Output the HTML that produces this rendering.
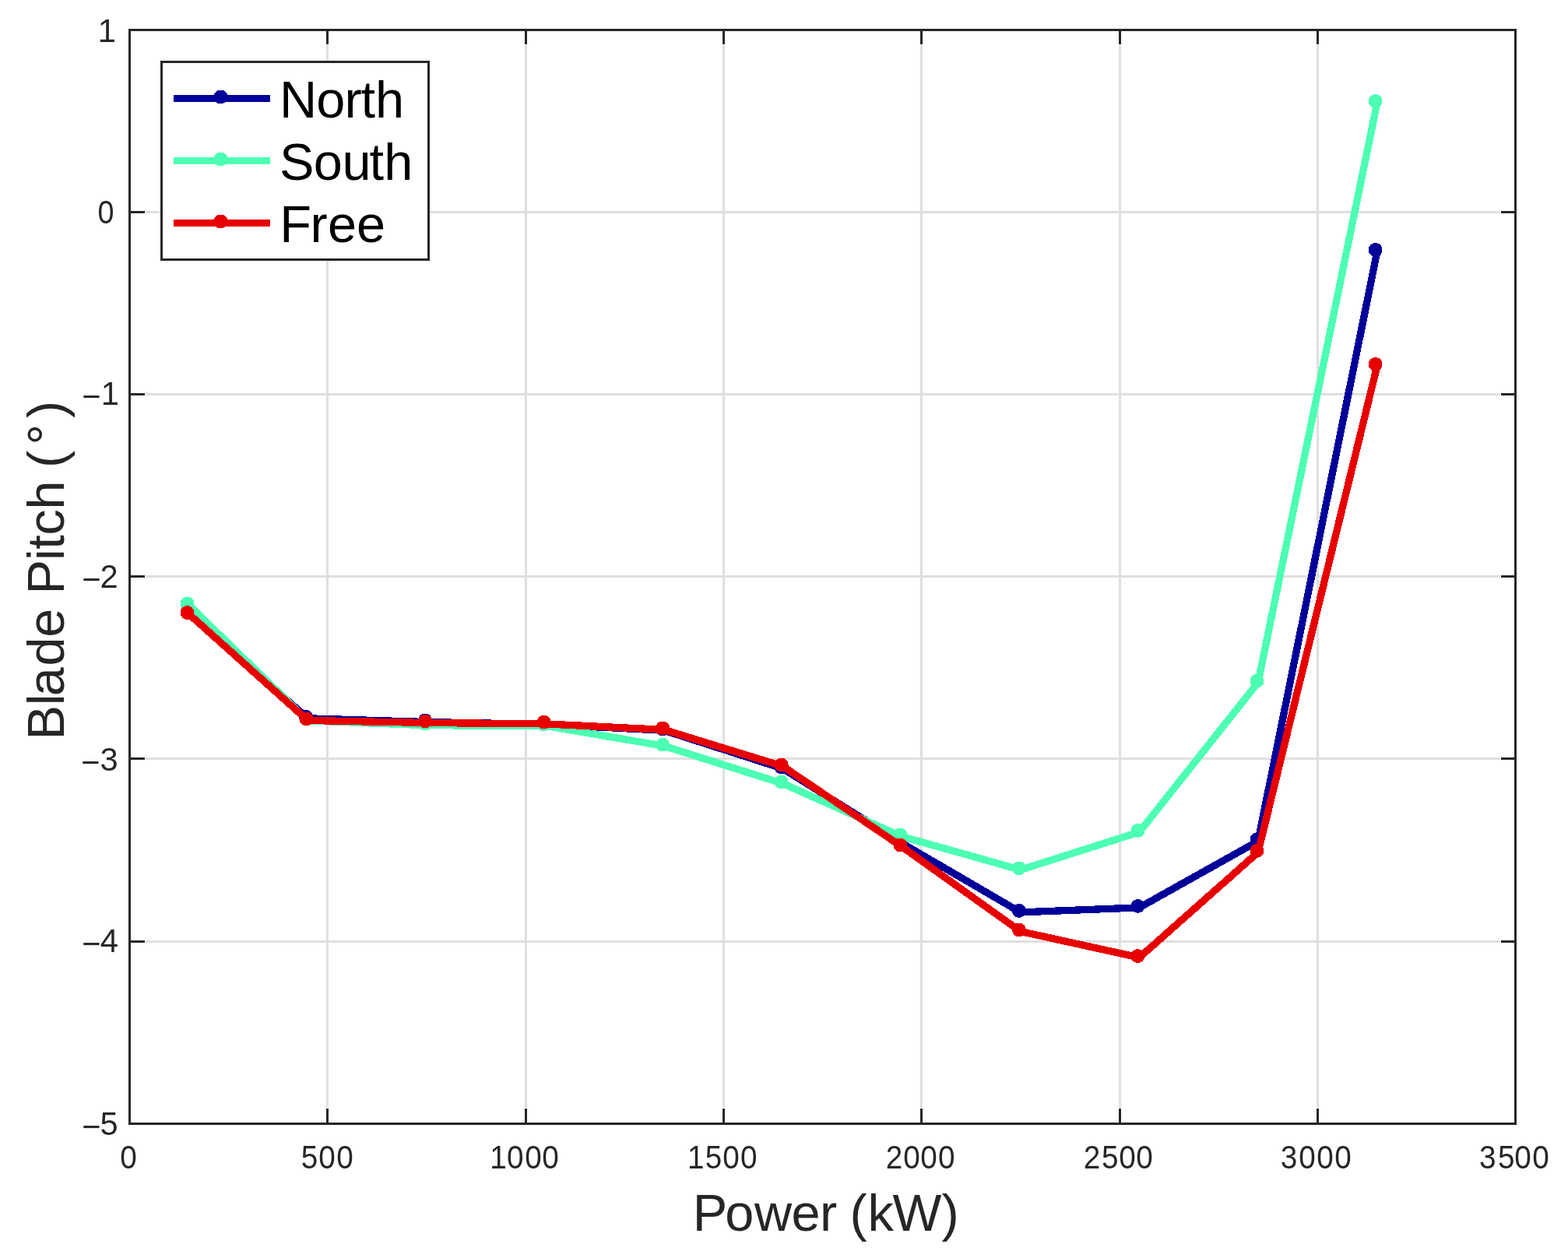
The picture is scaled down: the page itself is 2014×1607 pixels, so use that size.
<!DOCTYPE html>
<html lang="en"><head><meta charset="utf-8">
<title>Blade Pitch vs Power</title>
<style>
html,body{margin:0;padding:0;background:#fff;}
body{width:2014px;height:1607px;overflow:hidden;}
svg{display:block;}
text{font-family:"Liberation Sans", Arial, Helvetica, sans-serif;font-kerning:none;}
.tk{font-size:41.67px;fill:#262626;}
.lb{font-size:66.67px;fill:#262626;}
.lg{font-size:66.67px;fill:#000;}
</style></head><body>
<svg xmlns="http://www.w3.org/2000/svg" width="2014" height="1607" viewBox="0 0 2014 1607">
<rect x="0" y="0" width="2014" height="1607" fill="#ffffff"/>
<!-- grid -->
<g shape-rendering="crispEdges" fill="#dfdfdf">
<rect x="419" y="58" width="3" height="1365"/>
<rect x="674" y="58" width="3" height="1365"/>
<rect x="928" y="58" width="3" height="1365"/>
<rect x="1182" y="58" width="3" height="1365"/>
<rect x="1437" y="58" width="3" height="1365"/>
<rect x="1691" y="58" width="3" height="1365"/>
<rect x="187" y="1208" width="1740" height="3"/>
<rect x="187" y="973" width="1740" height="3"/>
<rect x="187" y="739" width="1740" height="3"/>
<rect x="187" y="505" width="1740" height="3"/>
<rect x="187" y="271" width="1740" height="3"/>
</g>
<!-- data series -->
<g shape-rendering="crispEdges" fill="none" stroke-linejoin="round" stroke-linecap="butt" stroke-width="9.3">
<polyline points="242.79,789 395.36,922.8 547.93,927.55 700.5,930.5 853.07,938.3 1005.64,987.4 1158.21,1083 1310.79,1171.9 1463.36,1165.9 1615.93,1080.5 1768.9,322.9" stroke="#000099"/>
<g fill="#000099" stroke="none">
<rect x="231.67" y="778.17" width="17.66" height="17.66" rx="8.33"/>
<rect x="384.03" y="911.97" width="17.66" height="17.66" rx="8.33"/>
<rect x="537.2" y="916.57" width="17.66" height="17.66" rx="8.33"/>
<rect x="689.77" y="919.27" width="17.66" height="17.66" rx="8.33"/>
<rect x="842.34" y="927.47" width="17.66" height="17.66" rx="8.33"/>
<rect x="994.91" y="976.57" width="17.66" height="17.66" rx="8.33"/>
<rect x="1147.48" y="1072.17" width="17.66" height="17.66" rx="8.33"/>
<rect x="1300.06" y="1161.07" width="17.66" height="17.66" rx="8.33"/>
<rect x="1452.63" y="1155.07" width="17.66" height="17.66" rx="8.33"/>
<rect x="1605.67" y="1069.67" width="17.66" height="17.66" rx="8.33"/>
<rect x="1757.77" y="312.07" width="17.66" height="17.66" rx="8.33"/>
</g>
<polyline points="242.79,777.4 395.36,925.8 547.93,931.7 700.5,932.4 853.07,958.3 1005.64,1006.6 1158.21,1074.5 1310.79,1117.4 1463.36,1068.9 1615.93,876.6 1768.9,131.9" stroke="#4dffb3"/>
<g fill="#4dffb3" stroke="none">
<rect x="231.67" y="766.47" width="17.66" height="17.66" rx="8.33"/>
<rect x="384.63" y="914.77" width="17.66" height="17.66" rx="8.33"/>
<rect x="537.2" y="920.72" width="17.66" height="17.66" rx="8.33"/>
<rect x="689.77" y="921.57" width="17.66" height="17.66" rx="8.33"/>
<rect x="842.34" y="947.82" width="17.66" height="17.66" rx="8.33"/>
<rect x="994.91" y="995.77" width="17.66" height="17.66" rx="8.33"/>
<rect x="1147.48" y="1063.67" width="17.66" height="17.66" rx="8.33"/>
<rect x="1300.06" y="1106.57" width="17.66" height="17.66" rx="8.33"/>
<rect x="1452.63" y="1058.07" width="17.66" height="17.66" rx="8.33"/>
<rect x="1605.67" y="865.77" width="17.66" height="17.66" rx="8.33"/>
<rect x="1757.77" y="121.07" width="17.66" height="17.66" rx="8.33"/>
</g>
<polyline points="242.79,789 395.36,925.45 547.93,928.5 700.5,929.9 853.07,937.4 1005.64,984.4 1158.21,1087.5 1310.79,1196.5 1463.36,1230.05 1615.93,1094.8 1768.9,469.9" stroke="#e60000"/>
<g fill="#e60000" stroke="none">
<rect x="231.67" y="778.17" width="17.66" height="17.66" rx="8.33"/>
<rect x="384.63" y="914.62" width="17.66" height="17.66" rx="8.33"/>
<rect x="537.2" y="917.67" width="17.66" height="17.66" rx="8.33"/>
<rect x="689.77" y="918.77" width="17.66" height="17.66" rx="8.33"/>
<rect x="842.34" y="926.57" width="17.66" height="17.66" rx="8.33"/>
<rect x="994.91" y="973.57" width="17.66" height="17.66" rx="8.33"/>
<rect x="1147.48" y="1076.67" width="17.66" height="17.66" rx="8.33"/>
<rect x="1300.06" y="1185.67" width="17.66" height="17.66" rx="8.33"/>
<rect x="1452.63" y="1219.22" width="17.66" height="17.66" rx="8.33"/>
<rect x="1605.67" y="1083.97" width="17.66" height="17.66" rx="8.33"/>
<rect x="1757.77" y="459.07" width="17.66" height="17.66" rx="8.33"/>
</g>
</g>
<!-- axes box and ticks -->
<g shape-rendering="crispEdges" fill="#262626">
<rect x="165" y="37" width="1783" height="3"/>
<rect x="165" y="1442" width="1783" height="3"/>
<rect x="165" y="37" width="3" height="1408"/>
<rect x="1945" y="37" width="3" height="1408"/>
<rect x="419" y="40" width="3" height="17"/>
<rect x="419" y="1424" width="3" height="18"/>
<rect x="674" y="40" width="3" height="17"/>
<rect x="674" y="1424" width="3" height="18"/>
<rect x="928" y="40" width="3" height="17"/>
<rect x="928" y="1424" width="3" height="18"/>
<rect x="1182" y="40" width="3" height="17"/>
<rect x="1182" y="1424" width="3" height="18"/>
<rect x="1437" y="40" width="3" height="17"/>
<rect x="1437" y="1424" width="3" height="18"/>
<rect x="1691" y="40" width="3" height="17"/>
<rect x="1691" y="1424" width="3" height="18"/>
<rect x="168" y="1208" width="18" height="3"/>
<rect x="1928" y="1208" width="17" height="3"/>
<rect x="168" y="973" width="18" height="3"/>
<rect x="1928" y="973" width="17" height="3"/>
<rect x="168" y="739" width="18" height="3"/>
<rect x="1928" y="739" width="17" height="3"/>
<rect x="168" y="505" width="18" height="3"/>
<rect x="1928" y="505" width="17" height="3"/>
<rect x="168" y="271" width="18" height="3"/>
<rect x="1928" y="271" width="17" height="3"/>
</g>
<!-- tick labels -->
<g>
<text class="tk" transform="scale(0.93 1.03)" x="165.99" y="1457.77">0</text>
<text class="tk" transform="scale(0.93 1.03)" x="415.85 439.98 464.71" y="1457.77">500</text>
<text class="tk" transform="scale(0.93 1.03)" x="676.49 700.13 724.92 748.68" y="1457.77">1000</text>
<text class="tk" transform="scale(0.93 1.03)" x="949.6 973.92 998.06 1022.72" y="1457.77">1500</text>
<text class="tk" transform="scale(0.93 1.03)" x="1223.35 1247.47 1271.18 1295.84" y="1457.77">2000</text>
<text class="tk" transform="scale(0.93 1.03)" x="1496.47 1521.43 1545.41 1568.96" y="1457.77">2500</text>
<text class="tk" transform="scale(0.93 1.03)" x="1768.69 1793.7 1818.53 1843.29" y="1457.77">3000</text>
<text class="tk" transform="scale(0.93 1.03)" x="2042.88 2068.74 2091.61 2116.27" y="1457.77">3500</text>
<text class="tk" transform="scale(1 1.03)" x="125.84" y="52.43">1</text>
<text class="tk" transform="scale(0.906 1.03)" x="138.52" y="278.25">0</text>
<text class="tk" transform="scale(1 1.03)" x="105.32 129.84" y="509.13 504.85">−1</text>
<text class="tk" transform="scale(1 1.03)" x="105.32 128.51" y="737.28 733.01">−2</text>
<text class="tk" transform="scale(1 1.03)" x="104.22 128.63" y="965.05 960.78">−3</text>
<text class="tk" transform="scale(1 1.03)" x="105.32 128.64" y="1191.65 1187.38">−4</text>
<text class="tk" transform="scale(1 1.03)" x="105.32 128.45" y="1419.42 1415.15">−5</text>
</g>
<!-- axis labels -->
<text class="lb" x="889.75 931.3 969.1 1016.5 1052.9 1074 1091.4 1114.5 1146.5 1209.4" y="1581">Power (kW)</text>
<text class="lb" transform="translate(82.4 737) rotate(-90)" x="-213.38 -169.2 -157.3 -118.45 -81.8 -42.9 -26.5 17 31.3 49.6 82.6 123.8 136 165.6 199.9" y="0">Blade Pitch (°)</text>
<!-- legend -->
<g shape-rendering="crispEdges">
<rect x="207.5" y="79.5" width="343" height="254" fill="#ffffff" stroke="#262626" stroke-width="3"/>
<rect x="223" y="122" width="124" height="9" fill="#000099"/>
<g fill="#000099"><rect x="274.67" y="115.67" width="17.66" height="17.66" rx="8.33"/></g>
<rect x="223" y="202" width="124" height="9" fill="#4dffb3"/>
<g fill="#4dffb3"><rect x="274.67" y="195.67" width="17.66" height="17.66" rx="8.33"/></g>
<rect x="223" y="282" width="124" height="9" fill="#e60000"/>
<g fill="#e60000"><rect x="274.67" y="275.67" width="17.66" height="17.66" rx="8.33"/></g>
</g>
<text class="lg" x="359 406.2 442.6 463.5 482" y="151">North</text>
<text class="lg" x="359.1 402.65 439.4 474.6 493.3" y="231">South</text>
<text class="lg" x="359.2 398.6 420.9 458" y="311">Free</text>
</svg>
</body></html>
